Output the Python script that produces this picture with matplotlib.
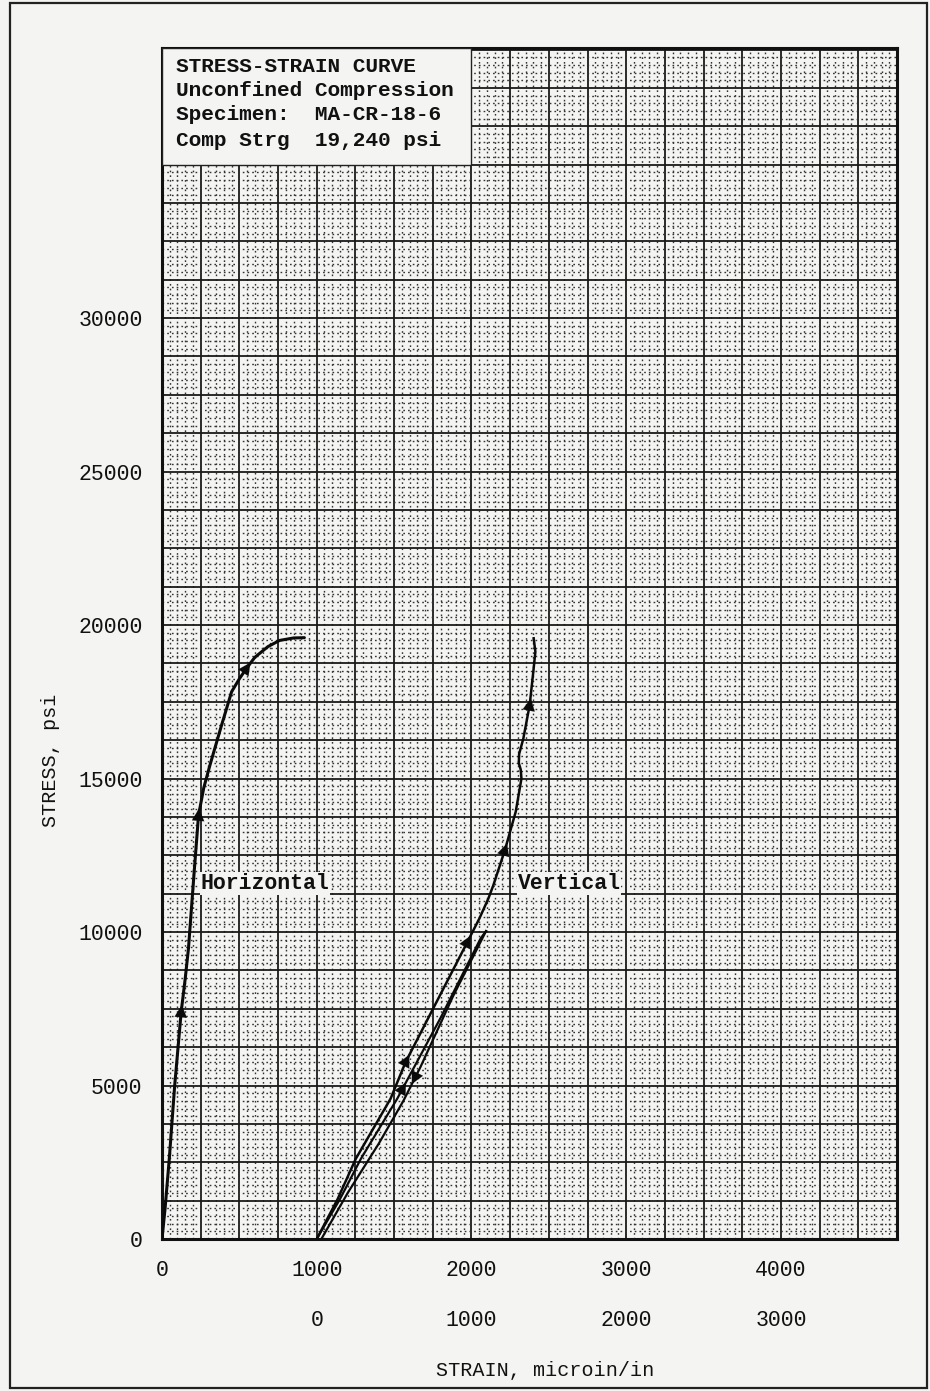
import numpy as np
import matplotlib
matplotlib.use("Agg")
import matplotlib.pyplot as plt
from matplotlib.patches import Rectangle

# ---------------- data ----------------
# Horizontal strain curve (primary strain scale, microin/in) vs stress (psi)
h_strain = [0, 20, 47, 82, 124, 150, 171, 203, 236, 270, 310, 385, 450, 500, 546, 600, 685, 760, 850, 920]
h_stress = [0, 1000, 2610, 5000, 7400, 8480, 9460, 11630, 13800, 14700, 15440, 16740, 17830, 18250, 18590,
            18950, 19300, 19500, 19580, 19590]

# Vertical strain curves (secondary strain scale, zero at primary 1000)
v_load_strain = [0, 150, 285, 520, 800, 1060, 1094]
v_load_stress = [0, 1300, 2610, 4570, 7200, 9800, 10030]

v_unload_strain = [1094, 880, 670, 560, 400, 200, 30]
v_unload_stress = [10030, 7900, 5600, 4500, 3100, 1500, 0]

v_reload_strain = [0, 135, 252, 477, 574, 974, 1051, 1109, 1141, 1216, 1286, 1323, 1318, 1306, 1308,
                   1335, 1376, 1400, 1413, 1402]
v_reload_stress = [0, 1300, 2610, 4570, 5760, 9680, 10440, 11090, 11520, 12670, 13920, 15000, 15300, 15500, 15800,
                   16300, 17390, 18500, 19130, 19570]

# arrow stress levels on each curve
h_arrows = [7400, 13800, 18590]
v_load_arrows = [4900]
v_unload_arrows = [5250]
v_reload_arrows = [5800, 9680, 12670, 17390]

x_ticks = [0, 1000, 2000, 3000, 4000]
x2_ticks = [0, 1000, 2000, 3000]
y_ticks = [0, 5000, 10000, 15000, 20000, 25000, 30000]

title_lines = ["STRESS-STRAIN CURVE", "Unconfined Compression",
               "Specimen:  MA-CR-18-6", "Comp Strg  19,240 psi"]

V_ZERO = 1000  # primary strain value where vertical scale starts


def to_primary(v):
    return np.asarray(v, dtype=float) + V_ZERO


def to_secondary(x):
    return np.asarray(x, dtype=float) - V_ZERO

# ---------------- figure ----------------
BG = "#f4f4f2"
MONO = "Liberation Mono"
fig = plt.figure(figsize=(9.30, 13.91), dpi=100, facecolor=BG)
ax = fig.add_axes([162 / 930, 1 - 1239 / 1391, (897 - 162) / 930, (1239 - 48) / 1391])
ax.set_facecolor(BG)

XMAX, YMAX = 4750, 38800
ax.set_xlim(0, XMAX)
ax.set_ylim(0, YMAX)

# graph-paper grid
for xv in np.arange(0, XMAX + 1, 50):
    if xv % 250 == 0:
        ax.axvline(xv, color="#1a1a1a", lw=1.3, zorder=1)
    else:
        ax.axvline(xv, color="#333333", lw=1.0, ls=(0, (1.2, 2.2)), zorder=1)
for yv in np.arange(0, YMAX + 1, 250):
    if yv % 1250 == 0:
        ax.axhline(yv, color="#1a1a1a", lw=1.3, zorder=1)
    else:
        ax.axhline(yv, color="#333333", lw=1.0, ls=(0, (1.2, 2.2)), zorder=1)

for sp in ax.spines.values():
    sp.set_linewidth(2.2)
    sp.set_color("#111111")

# title box
ax.add_patch(Rectangle((0, 35000), 2000, YMAX - 35000, facecolor=BG, edgecolor="#222222",
                       lw=1.0, zorder=3))
ty = [38190, 37410, 36630, 35780]
for line, yy in zip(title_lines, ty):
    ax.text(90, yy, line, family=MONO, fontweight="bold", fontsize=15.2, va="center",
            ha="left", color="#111111", zorder=4)

# curves
ax.plot(h_strain, h_stress, color="#0a0a0a", lw=2.2, zorder=5, solid_capstyle="round",
        solid_joinstyle="round")
ax.plot(to_primary(v_load_strain), v_load_stress, color="#0a0a0a", lw=1.6, zorder=5)
ax.plot(to_primary(v_unload_strain), v_unload_stress, color="#0a0a0a", lw=1.6, zorder=5)
ax.plot(to_primary(v_reload_strain), v_reload_stress, color="#0a0a0a", lw=1.8, zorder=5,
        solid_joinstyle="round")


def arrow_on(xs, ys, s):
    xs = np.asarray(xs, float)
    ys = np.asarray(ys, float)
    for i in range(len(xs) - 1):
        y0, y1 = ys[i], ys[i + 1]
        if min(y0, y1) <= s <= max(y0, y1) and y0 != y1:
            t = (s - y0) / (y1 - y0)
            p = np.array([xs[i] + t * (xs[i + 1] - xs[i]), s])
            d = np.array([xs[i + 1] - xs[i], y1 - y0])
            pd = ax.transData.transform(p)
            dd = ax.transData.transform(p + d) - pd
            dd = dd / np.hypot(*dd)
            inv = ax.transData.inverted()
            tail = inv.transform(pd - 7 * dd)
            head = inv.transform(pd + 7 * dd)
            ax.annotate("", xy=head, xytext=tail,
                        arrowprops=dict(arrowstyle="-|>", color="#0a0a0a", lw=0.1,
                                        mutation_scale=22, shrinkA=0, shrinkB=0),
                        zorder=6)
            return


for s in h_arrows:
    arrow_on(h_strain, h_stress, s)
for s in v_load_arrows:
    arrow_on(to_primary(v_load_strain), v_load_stress, s)
for s in v_unload_arrows:
    arrow_on(to_primary(v_unload_strain), v_unload_stress, s)
for s in v_reload_arrows:
    arrow_on(to_primary(v_reload_strain), v_reload_stress, s)

# curve labels
ax.text(250, 11580, "Horizontal", family=MONO, fontweight="bold", fontsize=15.5,
        va="center", ha="left", color="#111111", zorder=4,
        bbox=dict(facecolor=BG, edgecolor="none", pad=0.5))
ax.text(2298, 11580, "Vertical", family=MONO, fontweight="bold", fontsize=15.5,
        va="center", ha="left", color="#111111", zorder=4,
        bbox=dict(facecolor=BG, edgecolor="none", pad=0.5))

# ticks
ax.set_xticks(x_ticks)
ax.set_xticklabels([str(v) for v in x_ticks])
ax.set_yticks(y_ticks)
ax.set_yticklabels([str(v) for v in y_ticks])
ax.tick_params(axis="both", length=0, labelsize=15.5, colors="#111111")
ax.tick_params(axis="x", pad=15)
ax.tick_params(axis="y", pad=14)
for lab in ax.get_xticklabels() + ax.get_yticklabels():
    lab.set_family(MONO)

sec = ax.secondary_xaxis(-50 / 1191, functions=(to_secondary, to_primary))
sec.set_xticks(x2_ticks)
sec.set_xticklabels([str(v) for v in x2_ticks])
sec.tick_params(length=0, labelsize=15.5, pad=15, colors="#111111")
sec.spines["bottom"].set_visible(False)
for lab in sec.get_xticklabels():
    lab.set_family(MONO)

# axis titles
fig.text(50 / 930, 1 - 760 / 1391, "STRESS, psi", rotation=90, family=MONO, fontsize=14.5,
         ha="center", va="center", color="#111111")
fig.text(545 / 930, 1 - 1370 / 1391, "STRAIN, microin/in", family=MONO, fontsize=14.5,
         ha="center", va="center", color="#111111")

# scan frame
fig.add_artist(Rectangle((10 / 930, 3 / 1391), 917 / 930, 1385 / 1391, transform=fig.transFigure,
                         fill=False, edgecolor="#222222", lw=1.6))

fig.savefig("out.png", dpi=100, facecolor=BG)
